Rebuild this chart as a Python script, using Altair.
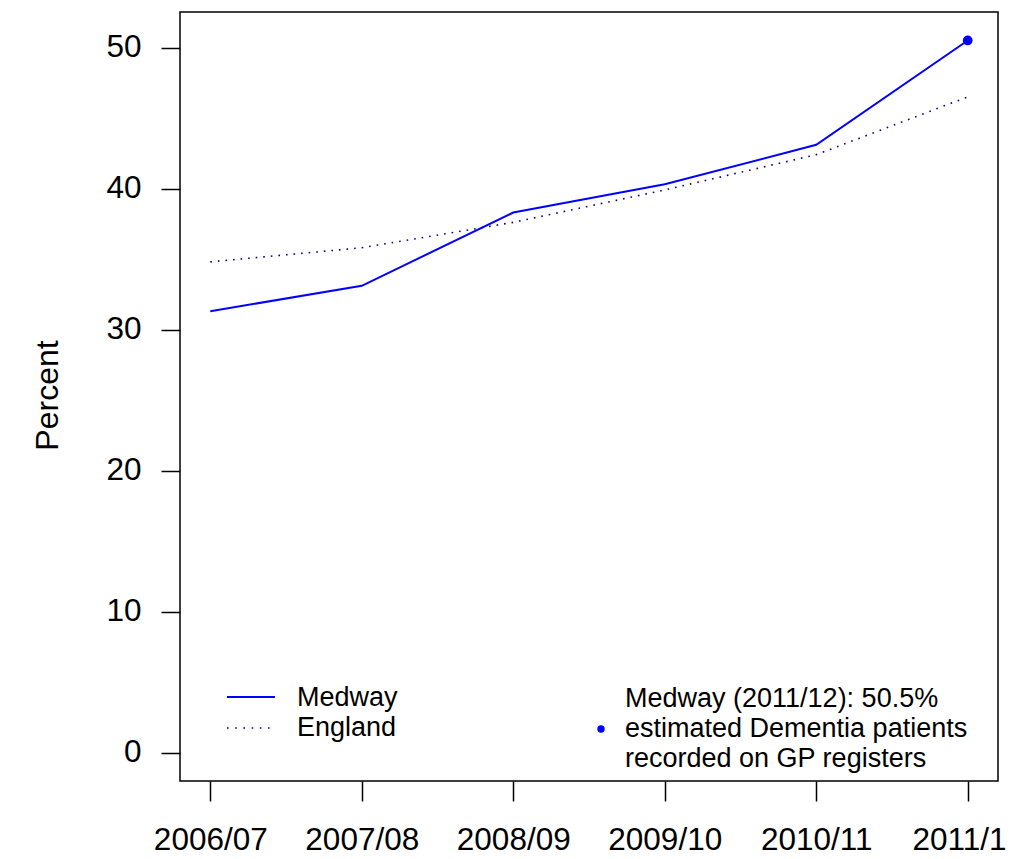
import altair as alt
import pandas as pd

years = ["2006/07", "2007/08", "2008/09", "2009/10", "2010/11", "2011/12"]
medway = [31.3, 33.1, 38.3, 40.3, 43.1, 50.5]
england = [34.8, 35.8, 37.6, 39.9, 42.4, 46.5]

df_m = pd.DataFrame({"year": years, "value": medway})
df_e = pd.DataFrame({"year": years, "value": england})
df_last = df_m.tail(1)

FONT = "Liberation Sans"

x_enc = alt.X("year:O", sort=years,
              scale=alt.Scale(type="point", padding=0.2),
              axis=alt.Axis(title=None, labelAngle=0, labelFontSize=31.5, labelFont=FONT,
                            labelColor="black", tickColor="black", tickSize=20, tickWidth=1.5,
                            domain=False, grid=False, labelPadding=23))
y_enc = alt.Y("value:Q", scale=alt.Scale(domain=[-2.02, 52.52], nice=False, zero=False),
              axis=alt.Axis(title="Percent", values=[0, 10, 20, 30, 40, 50], labelFontSize=31.5,
                            labelFont=FONT, labelColor="black", tickColor="black", tickSize=19,
                            tickWidth=1.5, domain=False, grid=False, labelPadding=20,
                            titleFont=FONT, titleFontSize=32, titleFontWeight="normal",
                            titleColor="black", titleAngle=-90, titleX=-123, titleY=383,
                            titleBaseline="alphabetic", titleAlign="center"))

line_m = alt.Chart(df_m).mark_line(color="#0000FF", strokeWidth=2).encode(x=x_enc, y=y_enc)
line_e = alt.Chart(df_e).mark_line(color="#00008B", strokeWidth=1.6,
                                   strokeDash=[1.6, 6]).encode(x=x_enc, y=y_enc)
pt = alt.Chart(df_last).mark_circle(color="#0000FF", size=95, opacity=1).encode(x=x_enc, y=y_enc)

legend_df = pd.DataFrame({"a": [0]})
base = alt.Chart(legend_df)
leg_m = base.mark_rule(color="#0000FF", strokeWidth=2).encode(
    x=alt.value(47), x2=alt.value(95), y=alt.value(685))
leg_e = base.mark_rule(color="#00008B", strokeWidth=1.6, strokeDash=[1.6, 6.6]).encode(
    x=alt.value(47), x2=alt.value(95), y=alt.value(716))
t1 = base.mark_text(text="Medway", align="left", baseline="alphabetic", fontSize=27,
                    font=FONT, color="black").encode(x=alt.value(117), y=alt.value(694))
t2 = base.mark_text(text="England", align="left", baseline="alphabetic", fontSize=27,
                    font=FONT, color="black").encode(x=alt.value(117), y=alt.value(724))
dot = base.mark_circle(color="#0000FF", size=55, opacity=1).encode(
    x=alt.value(421), y=alt.value(717))
r1 = base.mark_text(text="Medway (2011/12): 50.5%", align="left", baseline="alphabetic",
                    fontSize=27, font=FONT, color="black").encode(x=alt.value(445), y=alt.value(695))
r2 = base.mark_text(text="estimated Dementia patients", align="left", baseline="alphabetic",
                    fontSize=27, font=FONT, color="black").encode(x=alt.value(445), y=alt.value(724.5))
r3 = base.mark_text(text="recorded on GP registers", align="left", baseline="alphabetic",
                    fontSize=27, font=FONT, color="black").encode(x=alt.value(445), y=alt.value(754.5))

chart = alt.layer(line_e, line_m, pt, leg_m, leg_e, t1, t2, dot, r1, r2, r3).properties(
    width=818, height=769,
    autosize=alt.AutoSizeParams(type="none"),
    padding={"left": 172, "top": 4, "right": 9, "bottom": 70},
    background="white",
).configure_view(stroke="black", strokeWidth=1.5)

chart.save("out.html", embed_options={"renderer": "svg", "actions": False})
